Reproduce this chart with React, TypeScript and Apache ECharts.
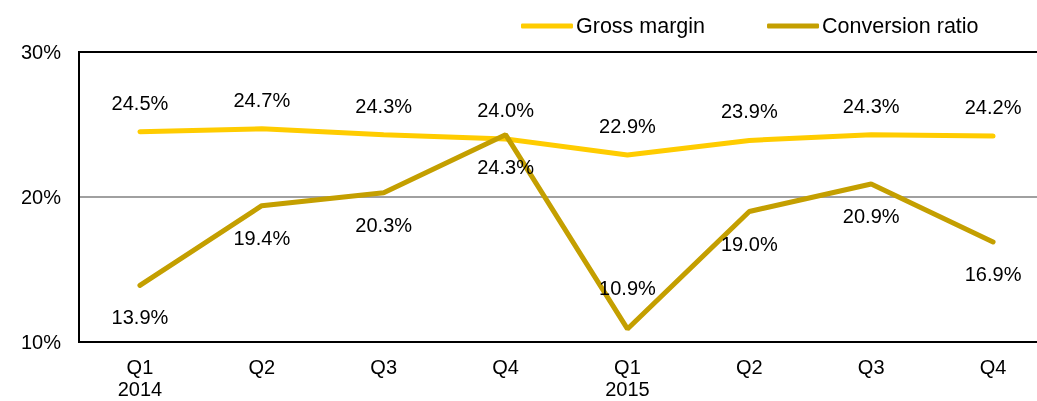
import React, { useEffect, useRef } from "react";
import * as echarts from "echarts";

const categories = ["Q1\n2014", "Q2", "Q3", "Q4", "Q1\n2015", "Q2", "Q3", "Q4"];
const grossMargin = [24.5, 24.7, 24.3, 24.0, 22.9, 23.9, 24.3, 24.2];
const conversionRatio = [13.9, 19.4, 20.3, 24.3, 10.9, 19.0, 20.9, 16.9];
const conversionLabelPos = ["bottom", "bottom", "bottom", "bottom", "top", "bottom", "bottom", "bottom"];
const yTicks = [10, 20, 30];

export default function App() {
  const ref = useRef<HTMLDivElement>(null);
  useEffect(() => {
    if (!ref.current) return;
    const chart = echarts.init(ref.current, null, { renderer: "svg" });
    const font = "Liberation Sans, Arial, sans-serif";
    const fmt = (p: any) => Number(p.value).toFixed(1) + "%";
    chart.setOption({
      animation: false,
      textStyle: { fontFamily: font },
      legend: {
        top: 10,
        left: 516,
        itemWidth: 52,
        itemHeight: 5,
        itemGap: 62,
        icon: "roundRect",
        textStyle: { fontSize: 21.5, color: "#000", fontFamily: font, padding: [0, 0, 0, -2] },
        data: ["Gross margin", "Conversion ratio"],
      },
      grid: {
        left: 79,
        top: 52,
        width: 975,
        height: 290,
        show: true,
        borderColor: "#000",
        borderWidth: 2,
        outerBoundsMode: "none",
        containLabel: false,
      },
      xAxis: {
        type: "category",
        data: categories,
        boundaryGap: true,
        axisLine: { show: true, lineStyle: { color: "#000", width: 2 } },
        axisTick: { show: false },
        axisLabel: { color: "#000", fontSize: 20, margin: 14, lineHeight: 22, fontFamily: font },
      },
      yAxis: {
        type: "value",
        min: yTicks[0],
        max: yTicks[yTicks.length - 1],
        interval: 10,
        axisLine: { show: true, lineStyle: { color: "#000", width: 2 } },
        axisTick: { show: false },
        splitLine: { show: true, lineStyle: { color: ["#000", "#808080", "#000"], width: 1.5 } },
        axisLabel: { color: "#000", fontSize: 20, margin: 18, formatter: "{value}%", fontFamily: font },
      },
      series: [
        {
          name: "Gross margin",
          type: "line",
          data: grossMargin,
          symbol: "circle",
          symbolSize: 0,
          lineStyle: { color: "#FFCC00", width: 5, cap: "round" },
          itemStyle: { color: "#FFCC00" },
          label: {
            show: true,
            position: "top",
            distance: 19,
            formatter: fmt,
            color: "#000",
            fontSize: 20,
            fontFamily: font,
          },
        },
        {
          name: "Conversion ratio",
          type: "line",
          data: conversionRatio.map((v, i) => ({
            value: v,
            label: {
              position: conversionLabelPos[i],
              distance: conversionLabelPos[i] === "top" ? 31 : 22,
            },
          })),
          symbol: "circle",
          symbolSize: 0,
          lineStyle: { color: "#C49F00", width: 5, cap: "round" },
          itemStyle: { color: "#C49F00" },
          label: {
            show: true,
            position: "bottom",
            distance: 22,
            formatter: fmt,
            color: "#000",
            fontSize: 20,
            fontFamily: font,
          },
        },
      ],
    });
    return () => chart.dispose();
  }, []);
  return <div ref={ref} style={{ position: "fixed", left: 0, top: 0, width: 1037, height: 401 }} />;
}
